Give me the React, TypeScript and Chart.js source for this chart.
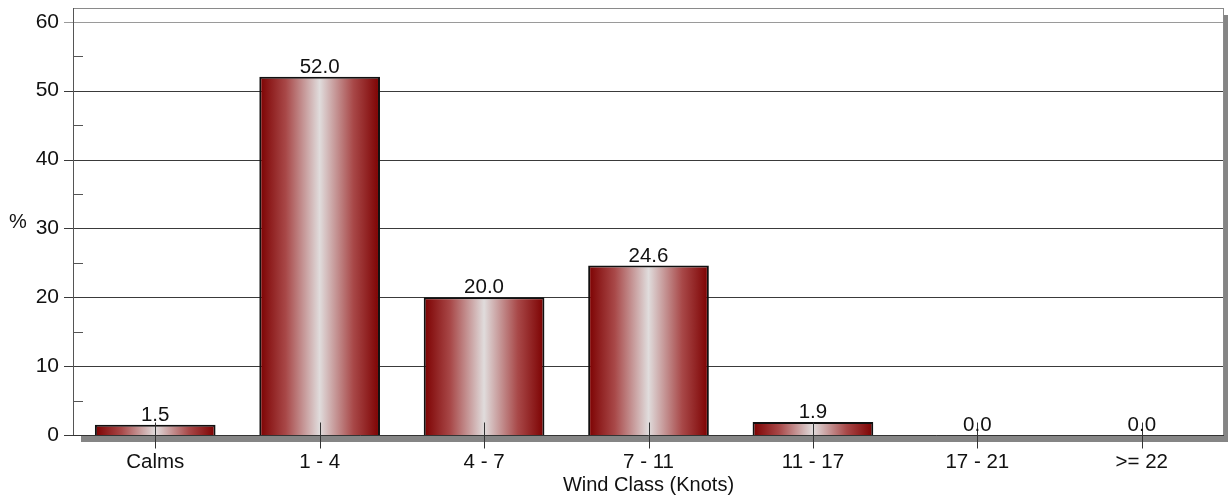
import React, { useEffect, useRef } from "react";
import { Chart, registerables } from "chart.js";

Chart.register(...registerables);

const categories = ["Calms", "1 - 4", "4 - 7", "7 - 11", "11 - 17", "17 - 21", ">= 22"];
const percentValues = [1.5, 52.0, 20.0, 24.6, 1.9, 0.0, 0.0];
const yTickValues = [0, 10, 20, 30, 40, 50, 60];
const yMinorTicks = [5, 15, 25, 35, 45, 55];
const xAxisTitle = "Wind Class (Knots)";
const yAxisTitle = "%";

const FONT = "'Liberation Sans', Arial, sans-serif";
const BAR_PCT = 0.734;

const framePlugin = {
  id: "framePlugin",
  beforeDatasetsDraw(chart: any) {
    const { ctx, chartArea: a } = chart;
    const ys = chart.scales.y;
    ctx.save();
    // shadow
    ctx.fillStyle = "#858585";
    ctx.fillRect(a.left + 8, a.top + 7, a.right - a.left, a.bottom - a.top);
    ctx.fillStyle = "#ffffff";
    ctx.fillRect(a.left, a.top, a.right - a.left, a.bottom - a.top);
    // grid lines
    yTickValues.forEach((v) => {
      const y = Math.round(ys.getPixelForValue(v)) + 0.5;
      ctx.strokeStyle = v === 60 ? "#9a9a9a" : "#3a3a3a";
      ctx.lineWidth = 1;
      ctx.beginPath();
      ctx.moveTo(a.left - 9, y);
      ctx.lineTo(a.right, y);
      ctx.stroke();
    });
    // minor ticks
    ctx.strokeStyle = "#555";
    yMinorTicks.forEach((v) => {
      const y = Math.round(ys.getPixelForValue(v)) + 0.5;
      ctx.beginPath();
      ctx.moveTo(a.left, y);
      ctx.lineTo(a.left + 10, y);
      ctx.stroke();
    });
    // frame
    ctx.strokeStyle = "#8a8a8a";
    ctx.lineWidth = 1;
    ctx.strokeRect(a.left + 0.5, a.top + 0.5, a.right - a.left - 1, a.bottom - a.top);
    ctx.strokeStyle = "#555";
    ctx.beginPath();
    ctx.moveTo(a.left + 0.5, a.top);
    ctx.lineTo(a.left + 0.5, a.bottom);
    ctx.stroke();
    ctx.restore();
  },
  afterDatasetsDraw(chart: any) {
    const { ctx, chartArea: a } = chart;
    const ys = chart.scales.y;
    const zeroY = Math.round(ys.getPixelForValue(0)) + 0.5;
    ctx.save();
    // axis line
    ctx.strokeStyle = "#333";
    ctx.lineWidth = 1;
    ctx.beginPath();
    ctx.moveTo(a.left, zeroY);
    ctx.lineTo(a.right, zeroY);
    ctx.stroke();
    const meta = chart.getDatasetMeta(0);
    meta.data.forEach((bar: any, i: number) => {
      const x = Math.round(bar.x) + 0.5;
      ctx.strokeStyle = "#333";
      ctx.beginPath();
      ctx.moveTo(x, zeroY - 13);
      ctx.lineTo(x, zeroY + 13);
      ctx.stroke();
      ctx.fillStyle = "#111";
      ctx.font = `20.5px ${FONT}`;
      ctx.textAlign = "center";
      ctx.textBaseline = "alphabetic";
      ctx.fillText(percentValues[i].toFixed(1), bar.x, bar.y - 4);
    });
    // axis titles
    ctx.fillStyle = "#111";
    ctx.font = `20px ${FONT}`;
    ctx.textAlign = "center";
    ctx.textBaseline = "middle";
    ctx.fillText(xAxisTitle, (a.left + a.right) / 2, 485);
    ctx.fillText(yAxisTitle, 18, 222);
    ctx.restore();
  },
};

export default function App() {
  const ref = useRef<HTMLCanvasElement>(null);
  useEffect(() => {
    if (!ref.current) return;
    const chart = new Chart(ref.current, {
      type: "bar",
      data: {
        labels: categories,
        datasets: [
          {
            data: percentValues,
            barPercentage: BAR_PCT,
            categoryPercentage: 1,
            borderColor: "#111",
            borderWidth: 2,
            backgroundColor: (c: any) => {
              const ch = c.chart;
              const xs = ch.scales?.x;
              if (!xs || !ch.chartArea) return "#8b0000";
              const cx = xs.getPixelForValue(c.dataIndex);
              const w = (xs.width / categories.length) * BAR_PCT;
              const g = ch.ctx.createLinearGradient(cx - w / 2, 0, cx + w / 2, 0);
              g.addColorStop(0, "#7c0000");
              g.addColorStop(0.22, "#a84848");
              g.addColorStop(0.5, "#e0dcdc");
              g.addColorStop(0.78, "#a84848");
              g.addColorStop(1, "#7c0000");
              return g;
            },
          },
        ],
      },
      options: {
        animation: false,
        responsive: true,
        maintainAspectRatio: false,
        layout: { padding: { left: 0, top: 8, right: 4, bottom: 0 } },
        plugins: { legend: { display: false }, tooltip: { enabled: false }, title: { display: false } },
        scales: {
          x: {
            grid: { display: false },
            border: { display: false },
            ticks: { color: "#111", font: { family: FONT, size: 20.5 }, padding: 7, maxRotation: 0, autoSkip: false },
            afterFit: (s: any) => {
              s.height = 62;
              s.paddingLeft = 0;
              s.paddingRight = 0;
            },
          },
          y: {
            min: 0,
            max: 62,
            grid: { display: false },
            border: { display: false },
            ticks: { color: "#111", font: { family: FONT, size: 21 }, padding: 6 },
            afterBuildTicks: (s: any) => {
              s.ticks = yTickValues.map((v) => ({ value: v }));
            },
            afterFit: (s: any) => {
              s.width = 73;
              s.paddingTop = 0;
              s.paddingBottom = 0;
            },
          },
        },
      },
      plugins: [framePlugin],
    });
    return () => chart.destroy();
  }, []);
  return (
    <div style={{ position: "absolute", left: 0, top: 0, width: 1228, height: 497, background: "#fff" }}>
      <canvas ref={ref} />
    </div>
  );
}
